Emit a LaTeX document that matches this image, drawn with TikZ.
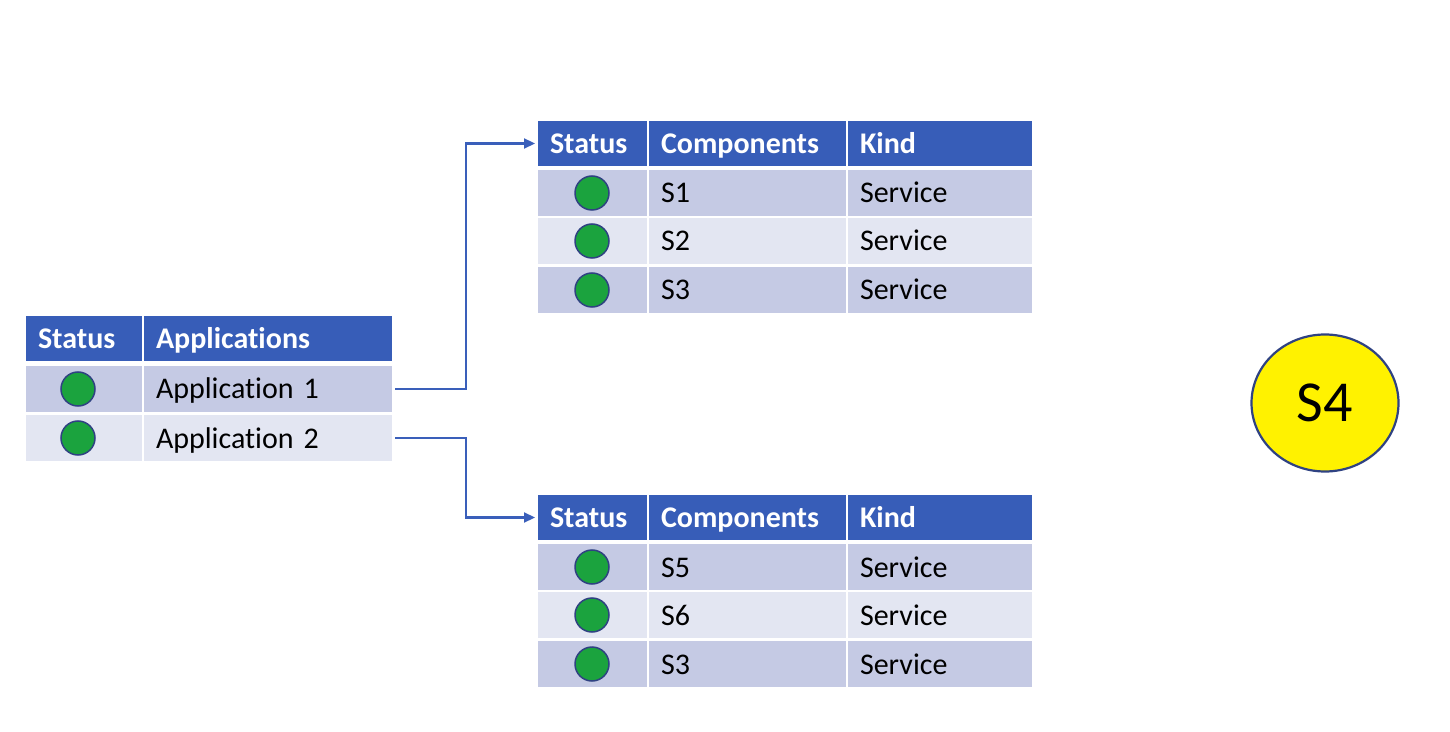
\documentclass[tikz,border=0pt]{standalone}
\usepackage{fontspec}
\setmainfont{Carlito}[Ligatures=CommonOff]
\usetikzlibrary{arrows.meta,shapes.geometric}

\definecolor{hdrblue}{RGB}{55,93,184}
\definecolor{rowdark}{RGB}{197,202,228}
\definecolor{rowlight}{RGB}{227,230,242}
\definecolor{okgreen}{RGB}{27,163,62}
\definecolor{rimblue}{RGB}{47,66,130}
\definecolor{linkblue}{RGB}{58,95,186}

\tikzset{
    cell/.style={anchor=north west, inner xsep=6pt, inner ysep=0pt, outer sep=0pt, text width=#1, align=left,
        minimum height=23pt, text height=13pt, text depth=3pt, font={\fontsize{15}{18}\selectfont}},
    hdr/.style={cell=#1, fill=hdrblue, text=white, font={\fontsize{15}{18}\selectfont\bfseries}, minimum height=22.5pt},
    dark/.style={cell=#1, fill=rowdark},
    light/.style={cell=#1, fill=rowlight},
    dot/.style={circle, fill=okgreen, draw=rimblue, line width=0.75pt, minimum size=17pt, inner sep=0pt},
    link/.style={draw=linkblue, line width=1.1pt, -{Triangle[length=5.5pt,width=5pt]}, shorten <=1.5pt, shorten >=1.5pt}
}

\begin{document}
\begin{tikzpicture}[x=0.5pt, y=-0.5pt]
        \useasboundingbox (0,0) rectangle (1450,732);

        % applications
        \node[hdr=46pt] (appH1) at (26,316) {Status};
        \node[hdr=112pt] (appH2) at (144,316) {Applications};
        \node[dark=46pt] (app1s) at (26,366) {};
        \node[dark=112pt] (app1n) at (144,366) {Application 1};
        \node[light=46pt] (app2s) at (26,415) {};
        \node[light=112pt] (app2n) at (144,415) {Application 2};
        \node[dot] (app1d) at (78,389) {};
        \node[dot] (app2d) at (78,438) {};

        % components of application 1
        \node[hdr=42.5pt] (topH1) at (538,121) {Status};
        \node[hdr=86.5pt] (topH2) at (649,121) {Components};
        \node[hdr=80pt] (topH3) at (848,121) {Kind};
        \node[dark=42.5pt] (top1s) at (538,170) {};
        \node[dark=86.5pt] (top1n) at (649,170) {S1};
        \node[dark=80pt] (top1k) at (848,170) {Service};
        \node[light=42.5pt] (top2s) at (538,218) {};
        \node[light=86.5pt] (top2n) at (649,218) {S2};
        \node[light=80pt] (top2k) at (848,218) {Service};
        \node[dark=42.5pt] (top3s) at (538,267) {};
        \node[dark=86.5pt] (top3n) at (649,267) {S3};
        \node[dark=80pt] (top3k) at (848,267) {Service};
        \node[dot] (top1d) at (592,193) {};
        \node[dot] (top2d) at (592,241) {};
        \node[dot] (top3d) at (592,290) {};

        % components of application 2
        \node[hdr=42.5pt] (botH1) at (538,495) {Status};
        \node[hdr=86.5pt] (botH2) at (649,495) {Components};
        \node[hdr=80pt] (botH3) at (848,495) {Kind};
        \node[dark=42.5pt] (bot1s) at (538,544) {};
        \node[dark=86.5pt] (bot1n) at (649,544) {S5};
        \node[dark=80pt] (bot1k) at (848,544) {Service};
        \node[light=42.5pt] (bot2s) at (538,592) {};
        \node[light=86.5pt] (bot2n) at (649,592) {S6};
        \node[light=80pt] (bot2k) at (848,592) {Service};
        \node[dark=42.5pt] (bot3s) at (538,641) {};
        \node[dark=86.5pt] (bot3n) at (649,641) {S3};
        \node[dark=80pt] (bot3k) at (848,641) {Service};
        \node[dot] (bot1d) at (592,567) {};
        \node[dot] (bot2d) at (592,615) {};
        \node[dot] (bot3d) at (592,664) {};

        \node[ellipse, fill=yellow, draw=rimblue, line width=1.1pt, minimum width=73.5pt, minimum height=68.5pt,
            font={\fontsize{29}{34}\selectfont}] (s4) at (1325,403) {S4};

        \coordinate (jog) at (466,0);
        \draw[link] (app1n.east) -| (jog |- topH1.west) -- (topH1.west);
        \draw[link] (app2n.east) -| (jog |- botH1.west) -- (botH1.west);
    \end{tikzpicture}
\end{document}
